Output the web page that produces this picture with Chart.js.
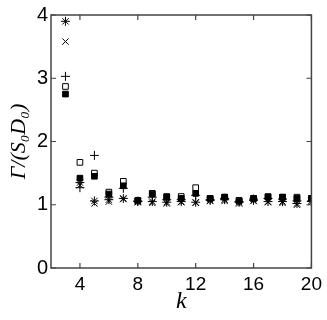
<!DOCTYPE html>
<html>
<head>
<meta charset="UTF-8">
<title>Gamma vs k</title>
<style>
  html, body { margin: 0; padding: 0; background: #fff; }
  #wrap { width: 327px; height: 320px; }
</style>
</head>
<body>
<div id="wrap"><canvas id="chart" width="327" height="320"></canvas></div>
<script src="https://cdn.jsdelivr.net/npm/chart.js"></script>
<script>
// k values and the five series
const kValues = [3, 4, 5, 6, 7, 8, 9, 10, 11, 12, 13, 14, 15, 16, 17, 18, 19, 20];
const starVals   = [3.90, 1.35, 1.06, 1.08, 1.10, 1.05, 1.05, 1.04, 1.05, 1.04, 1.07, 1.08, 1.04, 1.07, 1.05, 1.05, 1.02, 1.06];
const crossVals  = [3.58, 1.31, 1.02, 1.05, 1.09, 1.04, 1.03, 1.02, 1.04, 1.03, 1.06, 1.06, 1.02, 1.06, 1.04, 1.03, 1.00, 1.04];
const plusVals   = [3.03, 1.27, 1.78, 1.12, 1.26, 1.06, 1.12, 1.08, 1.08, 1.15, 1.08, 1.10, 1.05, 1.09, 1.10, 1.09, 1.06, 1.05];
const openVals   = [2.87, 1.67, 1.50, 1.20, 1.37, 1.06, 1.18, 1.13, 1.13, 1.27, 1.10, 1.12, 1.07, 1.10, 1.13, 1.12, 1.12, 1.10];
const filledVals = [2.75, 1.42, 1.45, 1.17, 1.30, 1.07, 1.17, 1.12, 1.10, 1.18, 1.10, 1.12, 1.06, 1.10, 1.12, 1.12, 1.10, 1.10];
const xTicks = [4, 8, 12, 16, 20];
const yTicks = [0, 1, 2, 3, 4];

function pts(vals) { return vals.map((v, i) => ({ x: kValues[i], y: v })); }

// inward ticks on all four sides + frame
const frameTicks = {
  id: 'frameTicks',
  afterDraw(chart) {
    const { ctx, chartArea: a, scales: { x, y } } = chart;
    ctx.save();
    ctx.strokeStyle = '#444';
    ctx.lineWidth = 1.5;
    ctx.strokeRect(a.left, a.top, a.right - a.left, a.bottom - a.top);
    ctx.lineWidth = 1.2;
    ctx.beginPath();
    xTicks.forEach(t => {
      const px = x.getPixelForValue(t);
      ctx.moveTo(px, a.bottom); ctx.lineTo(px, a.bottom - 5);
      ctx.moveTo(px, a.top); ctx.lineTo(px, a.top + 5);
    });
    yTicks.forEach(t => {
      const py = y.getPixelForValue(t);
      ctx.moveTo(a.left, py); ctx.lineTo(a.left + 5, py);
      ctx.moveTo(a.right, py); ctx.lineTo(a.right - 5, py);
    });
    ctx.stroke();
    ctx.restore();
  }
};

const common = { showLine: false, borderColor: '#000', borderWidth: 1 };

new Chart(document.getElementById('chart'), {
  type: 'scatter',
  data: {
    datasets: [
      { ...common, label: 'filled', data: pts(filledVals), pointStyle: 'rect', pointRadius: 4, backgroundColor: '#000' },
      { ...common, label: 'open', data: pts(openVals), pointStyle: 'rect', pointRadius: 4, backgroundColor: '#fff' },
      { ...common, label: 'plus', data: pts(plusVals), pointStyle: 'cross', pointRadius: 4.5, backgroundColor: '#000' },
      { ...common, label: 'cross', data: pts(crossVals), pointStyle: 'crossRot', pointRadius: 4.5, backgroundColor: '#000' },
      { ...common, label: 'star', data: pts(starVals), pointStyle: 'star', pointRadius: 4.5, backgroundColor: '#000' }
    ]
  },
  options: {
    responsive: false,
    animation: false,
    layout: { padding: { top: 12, right: 8, left: 0, bottom: 0 } },
    plugins: { legend: { display: false }, tooltip: { enabled: false } },
    scales: {
      x: {
        type: 'linear', min: 2, max: 20,
        afterBuildTicks: s => { s.ticks = xTicks.map(v => ({ value: v })); },
        grid: { display: false, drawTicks: false },
        border: { display: false },
        ticks: { color: '#000', padding: 5, autoSkip: false, maxRotation: 0,
                 font: { family: 'Liberation Sans', size: 19 } },
        title: { display: true, text: 'k', color: '#000', padding: { top: 0, bottom: 4 },
                 font: { family: 'Liberation Serif', style: 'italic', size: 24 } },
        afterFit: s => { s.height = 52; }
      },
      y: {
        type: 'linear', min: 0, max: 4,
        afterBuildTicks: s => { s.ticks = yTicks.map(v => ({ value: v })); },
        grid: { display: false, drawTicks: false },
        border: { display: false },
        ticks: { color: '#000', padding: 3, font: { family: 'Liberation Sans', size: 20 } },
        title: { display: true, text: 'Γ/(S₀D₀)', color: '#000', padding: { top: 6, bottom: 0 },
                 font: { family: 'Liberation Serif', style: 'italic', size: 22 } },
        afterFit: s => { s.width = 51; }
      }
    }
  },
  plugins: [frameTicks]
});
</script>
</body>
</html>
